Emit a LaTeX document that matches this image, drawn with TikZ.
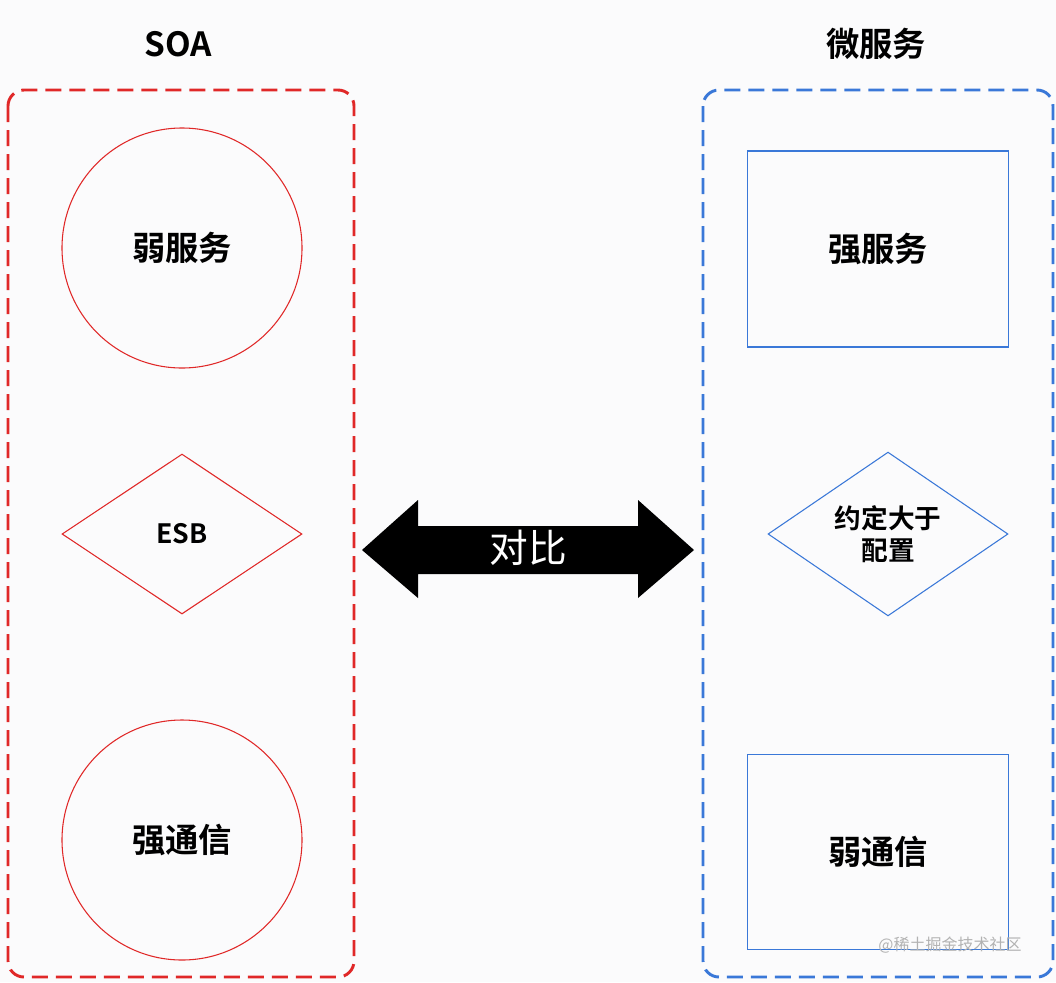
\documentclass[tikz,border=0pt]{standalone}
\usepackage{fontspec}
\setmainfont{Noto Sans CJK SC}
\newfontfamily\cjkb{Noto Sans CJK SC Bold}
\usetikzlibrary{shapes.geometric}
\definecolor{redc}{HTML}{E02828}
\definecolor{bluec}{HTML}{3A78D8}
\definecolor{bg}{HTML}{FBFBFC}
\begin{document}
\begin{tikzpicture}[x=0.75pt,y=-0.75pt,
  lbl/.style={font=\cjkb\fontsize{25}{28}\selectfont},
  grp/.style={dashed,dash pattern=on 12pt off 6pt,line width=2.2pt,rounded corners=12pt},
  redshape/.style={draw=redc,line width=0.8pt},
  blueshape/.style={draw=bluec,line width=0.8pt}]
\fill[bg] (0,0) rectangle (1056,982);
\useasboundingbox (0,0) rectangle (1056,982);
\node[lbl] (t1) at (178,44) {SOA};
\node[lbl] (t2) at (876,44) {微服务};
\draw[grp,draw=redc] (8,90) rectangle (354,977);
\draw[grp,draw=bluec] (703,90) rectangle (1053,977);
\node[redshape,circle,minimum size=180pt,lbl] (c1) at (182,248) {弱服务};
\node[redshape,diamond,minimum width=180pt,minimum height=120pt,inner sep=0pt,font=\cjkb\fontsize{20}{24}\selectfont] (d1) at (182,534) {ESB};
\node[redshape,circle,minimum size=180pt,lbl] (c2) at (182,840) {强通信};
\node[blueshape,draw,minimum width=196pt,minimum height=147pt,lbl] (r1) at (878,249) {强服务};
\node[blueshape,diamond,minimum width=180pt,minimum height=120pt,inner sep=0pt,align=center,font=\cjkb\fontsize{20}{24}\selectfont] (d2) at (888,534) {约定大于\\配置};
\node[blueshape,draw,minimum width=196pt,minimum height=146pt,lbl] (r2) at (878,852) {弱通信};
\fill[black] (362,550)--(418,500)--(418,526)--(638,526)--(638,500)--(694,550)--(638,598)--(638,574)--(418,574)--(418,598)--cycle;
\node[text=white,font=\fontsize{29}{32}\selectfont] (cmp) at (528,548) {对比};
\node[text=gray!60,font=\fontsize{12}{14}\selectfont] (wm) at (950,945) {@稀土掘金技术社区};
\end{tikzpicture}
\end{document}
